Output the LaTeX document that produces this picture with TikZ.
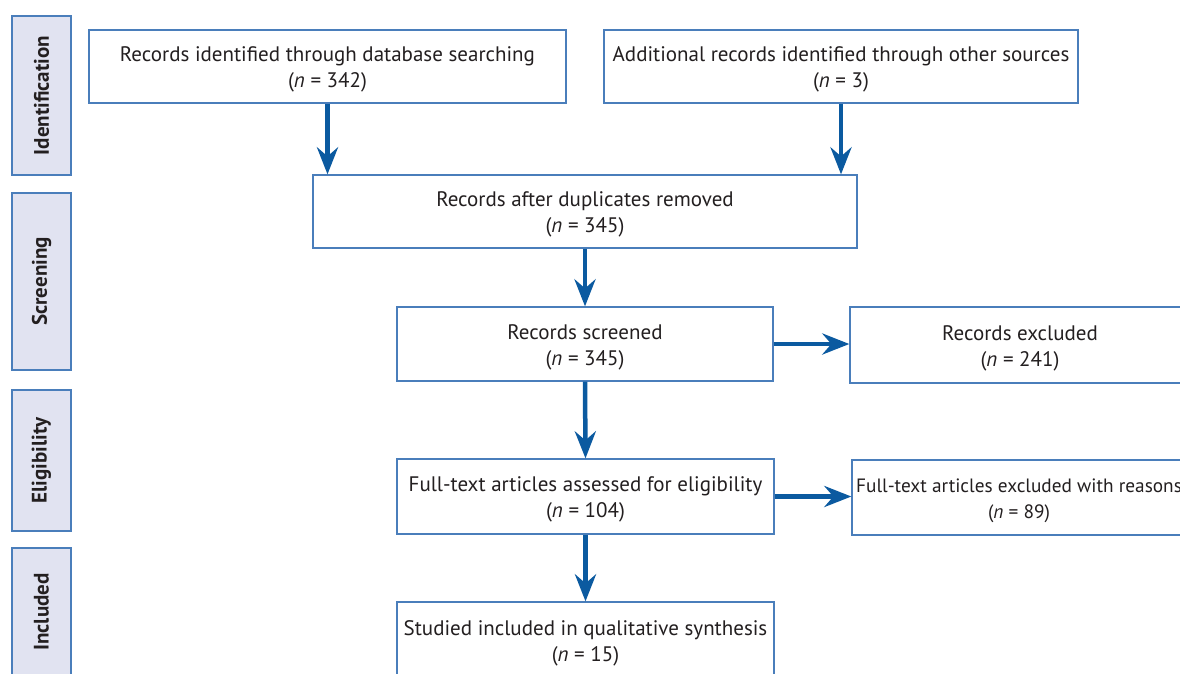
\documentclass[tikz,border=0pt]{standalone}
\usepackage{fontspec}
\setmainfont{PT Sans}
\usetikzlibrary{arrows.meta}
\definecolor{boxblue}{HTML}{4A7EBB}
\definecolor{arrowblue}{HTML}{0B5AA0}
\definecolor{sidefill}{HTML}{E1E3F1}
\definecolor{txt}{HTML}{231F20}
\tikzset{
  mainbox/.style={draw=boxblue, line width=1.3pt, fill=white, inner sep=0pt},
  mtext/.style={text=txt, align=center, font=\fontsize{21}{26}\selectfont, inner sep=0pt},
  sidebox/.style={draw=boxblue, line width=1.3pt, fill=sidefill, text=txt,
    font=\fontsize{21}{24}\selectfont\bfseries, inner sep=0pt, rotate=90},
  flow/.style={draw=arrowblue, line width=4.5pt, -{Stealth[length=27pt, width=21pt, inset=9pt]}}
}
\newcommand{\nval}[1]{(\textit{n} = #1)}
\begin{document}
\begin{tikzpicture}[x=1pt, y=-1pt]
\useasboundingbox (0,0) rectangle (1180,673);
\clip (0,0) rectangle (1180,673);
\fill[white] (0,0) rectangle (1180,673);
% side labels
\node[sidebox, minimum width=159pt, minimum height=59pt] (sid) at (41.5,95.5) {Identification};
\node[sidebox, minimum width=177pt, minimum height=59pt] (ssc) at (41.5,281.5) {Screening};
\node[sidebox, minimum width=141pt, minimum height=59pt] (sel) at (41.5,460.5) {Eligibility};
\node[sidebox, minimum width=160pt, minimum height=59pt] (sin) at (41.5,628) {};
\node[text=txt, font=\fontsize{21}{24}\selectfont\bfseries, inner sep=0pt, rotate=90] (tin) at (41.5,612) {Included};
% main boxes
\node[mainbox, minimum width=477pt, minimum height=73pt] (b1) at (327.5,66.5) {};
\node[mtext] (t1) at (327.5,69.5) {Records identified through database searching\\\nval{342}};
\node[mainbox, minimum width=474pt, minimum height=73pt] (b2) at (841,66.5) {};
\node[mtext] (t2) at (841,69.5) {Additional records identified through other sources\\\nval{3}};
\node[mainbox, minimum width=544pt, minimum height=73pt] (b3) at (585,211.5) {};
\node[mtext] (t3) at (585,214.5) {Records after duplicates removed\\\nval{345}};
\node[mainbox, minimum width=376pt, minimum height=74pt] (b4) at (585,344) {};
\node[mtext] (t4) at (585,347) {Records screened\\\nval{345}};
\node[mainbox, minimum width=340pt, minimum height=76pt] (b5) at (1020,345) {};
\node[mtext] (t5) at (1020,348) {Records excluded\\\nval{241}};
\node[mainbox, minimum width=377pt, minimum height=75pt] (b6) at (585.5,496.5) {};
\node[mtext] (t6) at (585.5,499.5) {Full-text articles assessed for eligibility\\\nval{104}};
\node[mainbox, minimum width=340pt, minimum height=75pt] (b7) at (1022,497.5) {};
\node[mtext, font=\fontsize{19.3}{26}\selectfont] (t7) at (1019,500.5) {Full-text articles excluded with reasons\\\nval{89}};
\node[mainbox, minimum width=377pt, minimum height=100pt] (b8) at (585.5,652) {};
\node[mtext] (t8) at (585.5,643) {Studied included in qualitative synthesis\\\nval{15}};
% arrows
\draw[flow] (b1.south) -- (b1.south |- b3.north);
\draw[flow] (b2.south) -- (b2.south |- b3.north);
\draw[flow] (b3.south) -- (b4.north);
\draw[flow] (b4.south) -- (b6.north);
\draw[flow] (b6.south) -- (b8.north);
\draw[flow] (b4.east) -- (b4.east -| b5.west);
\draw[flow] (b6.east) -- (b6.east -| b7.west);
\end{tikzpicture}
\end{document}
